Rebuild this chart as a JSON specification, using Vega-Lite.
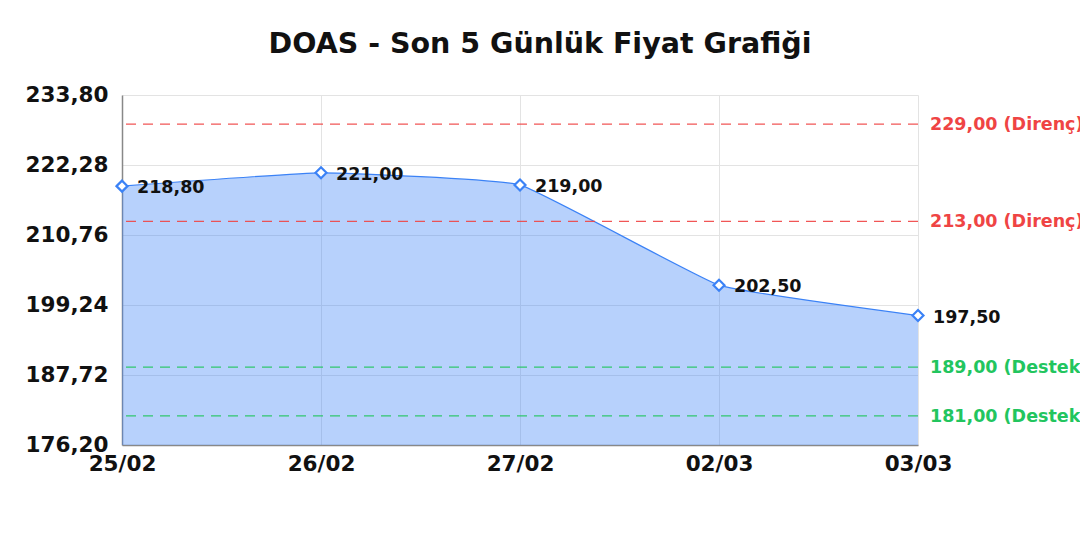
{
  "$schema": "https://vega.github.io/schema/vega-lite/v6.json",
  "width": 796,
  "height": 350,
  "autosize": {"type": "none"},
  "padding": {"left": 122, "top": 95, "right": 162, "bottom": 95},
  "background": "white",
  "title": {
    "text": "DOAS - Son 5 Günlük Fiyat Grafiği",
    "font": "DejaVu Sans",
    "fontSize": 28.5,
    "fontWeight": "bold",
    "color": "#111111",
    "anchor": "middle",
    "frame": "group",
    "dx": 20,
    "offset": 26
  },
  "config": {
    "locale": {"number": {"decimal": ",", "thousands": ".", "grouping": [3], "currency": ["", ""]}},
    "view": {"stroke": null},
    "axis": {
      "labelFont": "DejaVu Sans",
      "labelFontWeight": "bold",
      "labelFontSize": 21.5,
      "labelColor": "#111111",
      "gridColor": "#e3e3e3",
      "gridWidth": 1,
      "domainColor": "#888888",
      "domainWidth": 1.5,
      "ticks": false,
      "title": null
    }
  },
  "data": {
    "values": [
      {"d": "25/02", "price": 218.8},
      {"d": "26/02", "price": 221.0},
      {"d": "27/02", "price": 219.0},
      {"d": "02/03", "price": 202.5},
      {"d": "03/03", "price": 197.5}
    ]
  },
  "encoding": {
    "x": {
      "field": "d",
      "type": "ordinal",
      "sort": null,
      "scale": {"type": "point", "padding": 0},
      "axis": {"labelAngle": 0, "labelPadding": 8, "grid": true}
    },
    "y": {
      "field": "price",
      "type": "quantitative",
      "scale": {"domain": [176.2, 233.8], "nice": false, "zero": false},
      "axis": {
        "values": [176.2, 187.72, 199.24, 210.76, 222.28, 233.8],
        "format": ".2f",
        "labelPadding": 14,
        "grid": true
      }
    }
  },
  "layer": [
    {
      "mark": {"type": "area", "interpolate": "cardinal", "tension": 0.7, "color": "#3b82f6", "opacity": 0.37},
      "encoding": {"y2": {"datum": 176.2}}
    },
    {
      "mark": {"type": "line", "interpolate": "cardinal", "tension": 0.7, "color": "#3b82f6", "strokeWidth": 1.2}
    },
    {
      "data": {
        "values": [
          {"level": 229, "label": "229,00 (Direnç)", "kind": "Direnç"},
          {"level": 213, "label": "213,00 (Direnç)", "kind": "Direnç"},
          {"level": 189, "label": "189,00 (Destek)", "kind": "Destek"},
          {"level": 181, "label": "181,00 (Destek)", "kind": "Destek"}
        ]
      },
      "layer": [
        {
          "mark": {"type": "rule", "strokeDash": [10, 7], "strokeWidth": 1.3, "opacity": 0.9},
          "encoding": {
            "x": null,
            "y": {"field": "level", "type": "quantitative"},
            "color": {
              "field": "kind",
              "type": "nominal",
              "scale": {"domain": ["Direnç", "Destek"], "range": ["#ef4444", "#22c55e"]},
              "legend": null
            }
          }
        },
        {
          "mark": {"type": "text", "align": "left", "dx": 12, "dy": 1, "font": "DejaVu Sans", "fontWeight": "bold", "fontSize": 17.5},
          "encoding": {
            "x": {"datum": "03/03"},
            "y": {"field": "level", "type": "quantitative"},
            "text": {"field": "label"},
            "color": {
              "field": "kind",
              "type": "nominal",
              "scale": {"domain": ["Direnç", "Destek"], "range": ["#ef4444", "#22c55e"]},
              "legend": null
            }
          }
        }
      ]
    },
    {
      "mark": {"type": "point", "shape": "diamond", "filled": true, "fill": "white", "stroke": "#3b82f6", "strokeWidth": 2.2, "size": 120, "opacity": 1}
    },
    {
      "mark": {"type": "text", "align": "left", "dx": 15, "dy": 2, "font": "DejaVu Sans", "fontWeight": "bold", "fontSize": 17.5, "color": "#111111"},
      "encoding": {
        "text": {"field": "price", "type": "quantitative", "format": ".2f"}
      }
    }
  ]
}
